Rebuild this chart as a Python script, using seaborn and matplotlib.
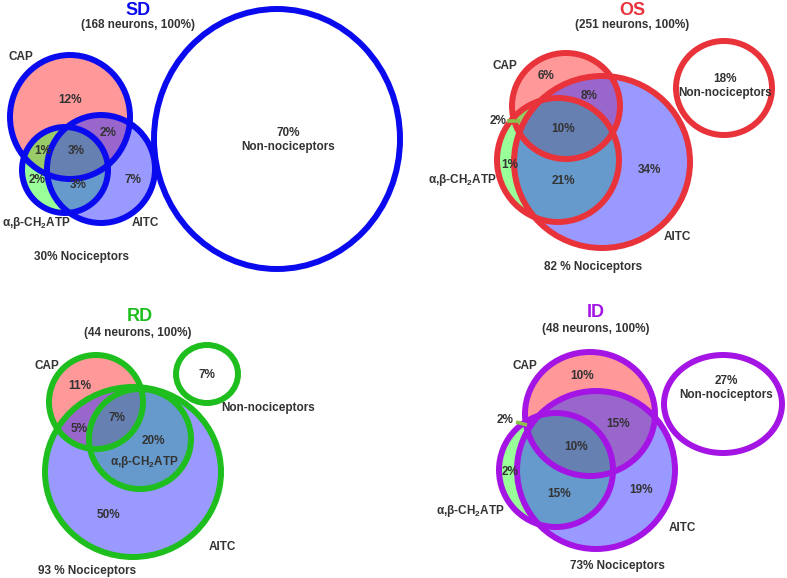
import matplotlib
matplotlib.use("Agg")
import matplotlib.pyplot as plt
import seaborn as sns
from matplotlib.patches import Ellipse

# ---- data (percent of neurons) ----
groups = ["SD", "OS", "RD", "ID"]
neurons = [168, 251, 44, 48]
nociceptors = ["30% Nociceptors", "82 % Nociceptors", "93 % Nociceptors", "73% Nociceptors"]
non_nociceptors = [70, 18, 7, 27]

sd_regions = ["CAP", "CAP+AITC", "CAP+ATP", "ALL", "ATP", "ATP+AITC", "AITC"]
sd_values = [12, 2, 1, 3, 2, 3, 7]
os_regions = ["CAP", "CAP+AITC", "CAP+ATP", "ALL", "ATP", "ATP+AITC", "AITC"]
os_values = [6, 8, 2, 10, 1, 21, 34]
rd_regions = ["CAP", "ALL", "CAP+AITC", "ATP+AITC", "AITC"]
rd_values = [11, 7, 5, 20, 50]
id_regions = ["CAP", "CAP+AITC", "CAP+ATP", "ALL", "ATP", "ATP+AITC", "AITC"]
id_values = [10, 15, 2, 10, 2, 15, 19]

# ---- layout (pixel space of the 787x578 canvas) ----
edge_colors = ["#0A0AEE", "#E8333B", "#1EBE1E", "#A414E4"]
fill_colors = {"CAP": "#FF3535", "ATP": "#35FF35", "AITC": "#3535FF"}

layout = {
    "SD": dict(title=(138, 15), sub=(138, 28),
               circles={"CAP": (70, 117, 120, 124), "ATP": (65, 170, 86, 86), "AITC": (101, 169, 108, 108)},
               nonnoc=(277, 139, 246, 260),
               pos={"CAP": (70, 100), "CAP+AITC": (108, 133), "CAP+ATP": (43, 151), "ALL": (76, 151),
                    "ATP": (37, 180), "ATP+AITC": (78, 185), "AITC": (133, 180)},
               lab={"CAP": (21, 57), "ATP": (36, 223), "AITC": (145, 223)},
               noc=(82, 257), nn_in=True, nn=(288, 140)),
    "OS": dict(title=(632, 15), sub=(632, 28),
               circles={"CAP": (566, 106, 108, 106), "ATP": (558, 160, 122, 124), "AITC": (602, 162, 176, 172)},
               nonnoc=(724, 88, 96, 94),
               pos={"CAP": (546, 76), "CAP+AITC": (589, 96), "CAP+ATP": (498, 121), "ALL": (563, 129),
                    "ATP": (510, 165), "ATP+AITC": (563, 181), "AITC": (649, 170)},
               lab={"CAP": (505, 66), "ATP": (462, 180), "AITC": (677, 237)},
               noc=(593, 267), nn_in=True, nn=(725, 86),
               leader=[(507, 520), (121, 121)]),
    "RD": dict(title=(140, 321), sub=(138, 336),
               circles={"CAP": (96, 402, 94, 94), "ATP": (140, 439, 102, 100), "AITC": (133, 472, 176, 170)},
               nonnoc=(207, 374, 62, 58),
               pos={"CAP": (80, 386), "ALL": (117, 418), "CAP+AITC": (79, 429), "ATP+AITC": (153, 441),
                    "AITC": (108, 515)},
               lab={"CAP": (47, 366), "ATP": (144, 462), "AITC": (222, 547)},
               noc=(87, 571), nn_in=False, nn=(207, 375), nn_lab=(268, 408)),
    "ID": dict(title=(596, 317), sub=(596, 332),
               circles={"CAP": (590, 414, 130, 124), "ATP": (556, 470, 114, 114), "AITC": (596, 470, 158, 158)},
               nonnoc=(723, 404, 118, 98),
               pos={"CAP": (582, 376), "CAP+AITC": (618, 424), "CAP+ATP": (505, 420), "ALL": (576, 447),
                    "ATP": (510, 472), "ATP+AITC": (559, 494), "AITC": (641, 490)},
               lab={"CAP": (525, 366), "ATP": (470, 511), "AITC": (682, 528)},
               noc=(617, 566), nn_in=True, nn=(726, 388),
               leader=[(516, 527), (422, 425)]),
}

region_data = {
    "SD": (sd_regions, sd_values),
    "OS": (os_regions, os_values),
    "RD": (rd_regions, rd_values),
    "ID": (id_regions, id_values),
}
set_labels = {"CAP": "CAP", "ATP": r"α,β-CH$_\mathbf{2}$ATP", "AITC": "AITC"}

sns.set_theme(style="white")
plt.rcParams["font.family"] = ["Liberation Sans", "DejaVu Sans"]
plt.rcParams["mathtext.fontset"] = "custom"
plt.rcParams["mathtext.bf"] = "Liberation Sans:bold"
plt.rcParams["mathtext.rm"] = "Liberation Sans:bold"

txt = "#333333"
fs = 8.5
fig = plt.figure(figsize=(7.87, 5.78), dpi=100)
ax = fig.add_axes([0, 0, 1, 1])
ax.set_xlim(0, 787)
ax.set_ylim(578, 0)
ax.axis("off")

for i, g in enumerate(groups):
    L = layout[g]
    ec = edge_colors[i]
    # fills (semi-transparent so overlaps mix)
    for s in ["CAP", "ATP", "AITC"]:
        x, y, w, h = L["circles"][s]
        ax.add_patch(Ellipse((x, y), w, h, facecolor=fill_colors[s], alpha=0.5, lw=0, zorder=1))
    if "leader" in L:
        ax.plot(L["leader"][0], L["leader"][1], color="#8BC34A", lw=2.6, zorder=4,
                solid_capstyle="butt")
    # outlines
    for s in ["CAP", "ATP", "AITC"]:
        x, y, w, h = L["circles"][s]
        ax.add_patch(Ellipse((x, y), w, h, facecolor="none", edgecolor=ec, lw=4.3, zorder=3))
    x, y, w, h = L["nonnoc"]
    ax.add_patch(Ellipse((x, y), w, h, facecolor="none", edgecolor=ec, lw=4.3, zorder=3))

    # titles
    ax.text(*L["title"], g, color=ec, fontsize=13, fontweight="bold", ha="center", va="baseline", zorder=5)
    ax.text(*L["sub"], f"({neurons[i]} neurons, 100%)", color=txt, fontsize=fs,
            fontweight="bold", ha="center", va="baseline", zorder=5)

    # region percentages
    regs, vals = region_data[g]
    for r, v in zip(regs, vals):
        ax.text(*L["pos"][r], f"{v}%", color=txt, fontsize=fs, fontweight="bold",
                ha="center", va="center", zorder=5)

    # set labels
    for s, p in L["lab"].items():
        ax.text(*p, set_labels[s], color=txt, fontsize=fs, fontweight="bold",
                ha="center", va="center", zorder=5)

    ax.text(*L["noc"], nociceptors[i], color=txt, fontsize=fs, fontweight="bold",
            ha="center", va="center", zorder=5)

    if L["nn_in"]:
        ax.text(*L["nn"], f"{non_nociceptors[i]}%\nNon-nociceptors", color=txt, fontsize=fs,
                fontweight="bold", ha="center", va="center", linespacing=1.3, zorder=5)
    else:
        ax.text(*L["nn"], f"{non_nociceptors[i]}%", color=txt, fontsize=fs, fontweight="bold",
                ha="center", va="center", zorder=5)
        ax.text(*L["nn_lab"], "Non-nociceptors", color=txt, fontsize=fs, fontweight="bold",
                ha="center", va="center", zorder=5)

fig.savefig("out.png", dpi=100)
plt.close(fig)
